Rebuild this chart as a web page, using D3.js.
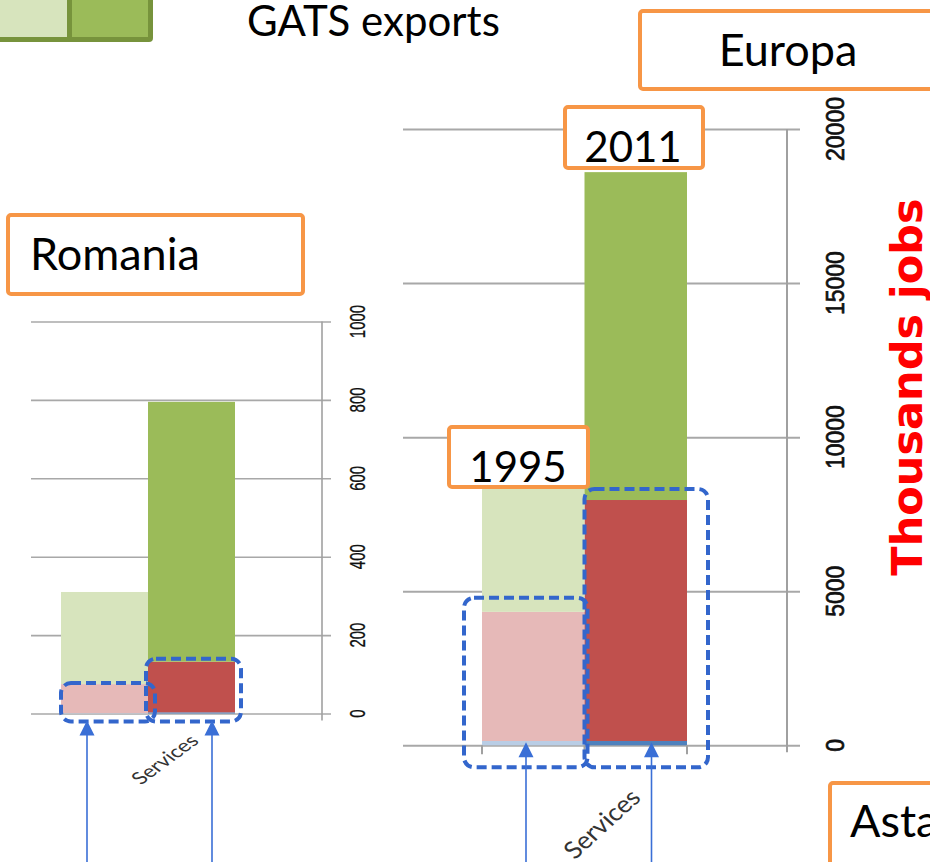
<!DOCTYPE html>
<html>
<head>
<meta charset="utf-8">
<script src="https://cdn.jsdelivr.net/npm/d3@7"></script>
<style>
  body { margin: 0; background: #fff; }
  svg { display: block; }
</style>
</head>
<body>
<div id="chart"></div>
<script>
// Data (thousand jobs)
const years = ["1995", "2011"];
const keys = ["base", "serv", "gats"];

const romaniaBase = [1, 3];
const romaniaServ = [74, 129];
const romaniaGats = [235, 663];

const europaBase = [140, 140];
const europaServ = [4190, 7820];
const europaGats = [4070, 10640];

const romaniaTicks = [0, 200, 400, 600, 800, 1000];
const europaTicks = [0, 5000, 10000, 15000, 20000];

// colours per series, light for 1995, dark for 2011
const seriesColors = {
  base: ["#b9cde5", "#4f81bd"],
  serv: ["#e6b9b8", "#c0504d"],
  gats: ["#d7e4bd", "#9bbb59"]
};

const categoryLabel = "Services";
const legendLabel = "GATS exports";
const axisTitle = "Thousands jobs";

const W = 930, H = 862;
const svg = d3.select("#chart").append("svg")
    .attr("width", W)
    .attr("height", H);

const orange = "#f79646";
const dashBlue = "#3366cc";
const arrowBlue = "#3a6fd6";

function drawChart(cfg) {
  const g = svg.append("g");
  const rows = years.map((yr, i) => ({year: yr, i: i, base: cfg.base[i], serv: cfg.serv[i], gats: cfg.gats[i]}));
  const series = d3.stack().keys(keys)(rows);

  const x = d3.scaleBand().domain(years).range(cfg.xRange).padding(0);
  const y = d3.scaleLinear().domain([0, cfg.max]).range(cfg.yRange);

  // gridlines
  g.append("g")
      .attr("transform", "translate(" + cfg.gridRight + ",0)")
      .call(d3.axisLeft(y).tickValues(cfg.ticks).tickSize(cfg.gridRight - cfg.gridLeft).tickFormat(""))
      .call(a => a.select(".domain").remove())
      .call(a => a.selectAll("line").attr("stroke", "#a8a8a8").attr("stroke-width", cfg.gridWidth));

  // stacked bars
  g.selectAll(".layer")
    .data(series)
    .enter().append("g")
      .attr("class", "layer")
    .selectAll("rect")
    .data(d => d.map(v => ({key: d.key, v: v})))
    .enter().append("rect")
      .attr("x", d => x(d.v.data.year))
      .attr("width", x.bandwidth())
      .attr("y", d => y(d.v[1]))
      .attr("height", d => y(d.v[0]) - y(d.v[1]))
      .attr("fill", d => seriesColors[d.key][d.v.data.i]);

  // vertical axis line
  g.append("line")
      .attr("x1", cfg.axisX).attr("x2", cfg.axisX)
      .attr("y1", y(cfg.max)).attr("y2", y(0) + cfg.axisExtra)
      .attr("stroke", "#a0a0a0")
      .attr("stroke-width", cfg.gridWidth);

  // category ticks on the baseline
  if (cfg.xTicks) {
    const edges = years.map(d => x(d)).concat([x(years[years.length - 1]) + x.bandwidth()]);
    g.selectAll(".xt")
      .data(edges)
      .enter().append("line")
        .attr("x1", d => d).attr("x2", d => d)
        .attr("y1", y(0)).attr("y2", y(0) + 9)
        .attr("stroke", "#a0a0a0")
        .attr("stroke-width", 2);
  }

  // rotated tick labels
  g.selectAll(".tl")
    .data(cfg.ticks)
    .enter().append("text")
      .attr("transform", d => "translate(" + cfg.labelX + "," + y(d) + ") scale(" + cfg.labelStretch + ",1) rotate(-90)")
      .attr("text-anchor", "middle")
      .attr("dominant-baseline", "central")
      .style("font-family", "'Liberation Sans', Arial, sans-serif")
      .style("font-size", cfg.labelSize + "px")
      .style("fill", "#111")
      .style("stroke", "#111")
      .style("stroke-width", cfg.labelStroke)
      .text(d => d);

  // category label
  g.append("text")
      .attr("transform", "translate(" + cfg.cat[0] + "," + cfg.cat[1] + ") scale(" + cfg.cat[3] + ",1) rotate(-45)")
      .attr("text-anchor", "middle")
      .attr("dominant-baseline", "central")
      .style("font-family", "Lato, 'Open Sans', sans-serif")
      .style("font-size", cfg.cat[2] + "px")
      .style("fill", "#333")
      .text(categoryLabel);

  // dashed boxes around the services part of each bar
  rows.forEach((r, i) => {
    const p = cfg.boxPad[i];
    const x0 = x(r.year) - p[0];
    const x1 = x(r.year) + x.bandwidth() + p[1];
    const y0 = y(r.base + r.serv) - p[2];
    const y1 = y(0) + p[3];
    g.append("rect")
        .attr("x", x0).attr("y", y0)
        .attr("width", x1 - x0).attr("height", y1 - y0)
        .attr("rx", 10).attr("ry", 10)
        .attr("fill", "none")
        .attr("stroke", dashBlue)
        .attr("stroke-width", 4)
        .attr("stroke-dasharray", "10,5");
  });

  // arrows pointing up at the bars
  rows.forEach((r, i) => {
    const ax = x(r.year) + cfg.arrowOff[i];
    const tip = y(0) + cfg.arrowTip;
    g.append("line")
        .attr("x1", ax).attr("x2", ax)
        .attr("y1", tip + 12).attr("y2", H)
        .attr("stroke", arrowBlue)
        .attr("stroke-width", 1.6);
    g.append("path")
        .attr("d", "M" + ax + "," + tip + "L" + (ax + 7.5) + "," + (tip + 15) + "L" + (ax - 7.5) + "," + (tip + 15) + "Z")
        .attr("fill", arrowBlue);
  });
}

drawChart({
  base: romaniaBase, serv: romaniaServ, gats: romaniaGats,
  max: 1000, ticks: romaniaTicks,
  xRange: [61, 235], yRange: [713.5, 321.5],
  gridLeft: 31, gridRight: 331, gridWidth: 1.6,
  axisX: 322, axisExtra: 7,
  labelX: 357, labelSize: 15, labelStretch: 1.45, labelStroke: 0.2,
  cat: [164, 759, 17, 1.36],
  boxPad: [[0, 7, 1, 8], [2, 6, 3, 8]],
  arrowOff: [26, 64], arrowTip: 7,
  xTicks: false
});

drawChart({
  base: europaBase, serv: europaServ, gats: europaGats,
  max: 20000, ticks: europaTicks,
  xRange: [482, 687], yRange: [745.3, 129],
  gridLeft: 403, gridRight: 800, gridWidth: 2,
  axisX: 787, axisExtra: 7,
  labelX: 835, labelSize: 23, labelStretch: 1.1, labelStroke: 0.6,
  cat: [601, 823, 24, 1.1],
  boxPad: [[18, 3, 14, 22], [0, 21, 11, 22]],
  arrowOff: [44, 67], arrowTip: -3,
  xTicks: true
});

// legend swatch (top-left)
svg.append("rect")
    .attr("x", -8).attr("y", -8)
    .attr("width", 161).attr("height", 50)
    .attr("rx", 4)
    .attr("fill", "#77933c");
svg.append("rect")
    .attr("x", 0).attr("y", 0).attr("width", 67).attr("height", 37)
    .attr("fill", seriesColors.gats[0]);
svg.append("rect")
    .attr("x", 72).attr("y", 0).attr("width", 76).attr("height", 37)
    .attr("fill", seriesColors.gats[1]);
svg.append("text")
    .attr("x", 247).attr("y", 36)
    .style("font-family", "Lato, 'Open Sans', sans-serif")
    .style("font-size", "42px")
    .style("fill", "#000")
    .text(legendLabel);

// orange annotation boxes
function labelBox(x0, y0, x1, y1, text, tx, ty, anchor, size) {
  svg.append("rect")
      .attr("x", x0).attr("y", y0)
      .attr("width", x1 - x0).attr("height", y1 - y0)
      .attr("rx", 3)
      .attr("fill", "#fff")
      .attr("stroke", orange)
      .attr("stroke-width", 4);
  svg.append("text")
      .attr("x", tx).attr("y", ty)
      .attr("text-anchor", anchor)
      .style("font-family", "Lato, 'Open Sans', sans-serif")
      .style("font-size", size + "px")
      .style("fill", "#000")
      .text(text);
}

labelBox(8, 215, 303, 294, "Romania", 30, 270, "start", 45);
labelBox(640, 11, 940, 89, "Europa", 788, 66, "middle", 45);
labelBox(565, 107, 703, 168, years[1], 633, 162, "middle", 42);
labelBox(449, 427, 588, 487, years[0], 518, 482, "middle", 42);
labelBox(830, 783, 940, 870, "Asta", 850, 837, "start", 45);

// axis title
svg.append("text")
    .attr("transform", "translate(907,387) rotate(-90)")
    .attr("text-anchor", "middle")
    .attr("dominant-baseline", "central")
    .style("font-family", "'DejaVu Sans', sans-serif")
    .style("font-weight", "bold")
    .style("font-size", "43px")
    .style("fill", "#ff0000")
    .text(axisTitle);
</script>
</body>
</html>
